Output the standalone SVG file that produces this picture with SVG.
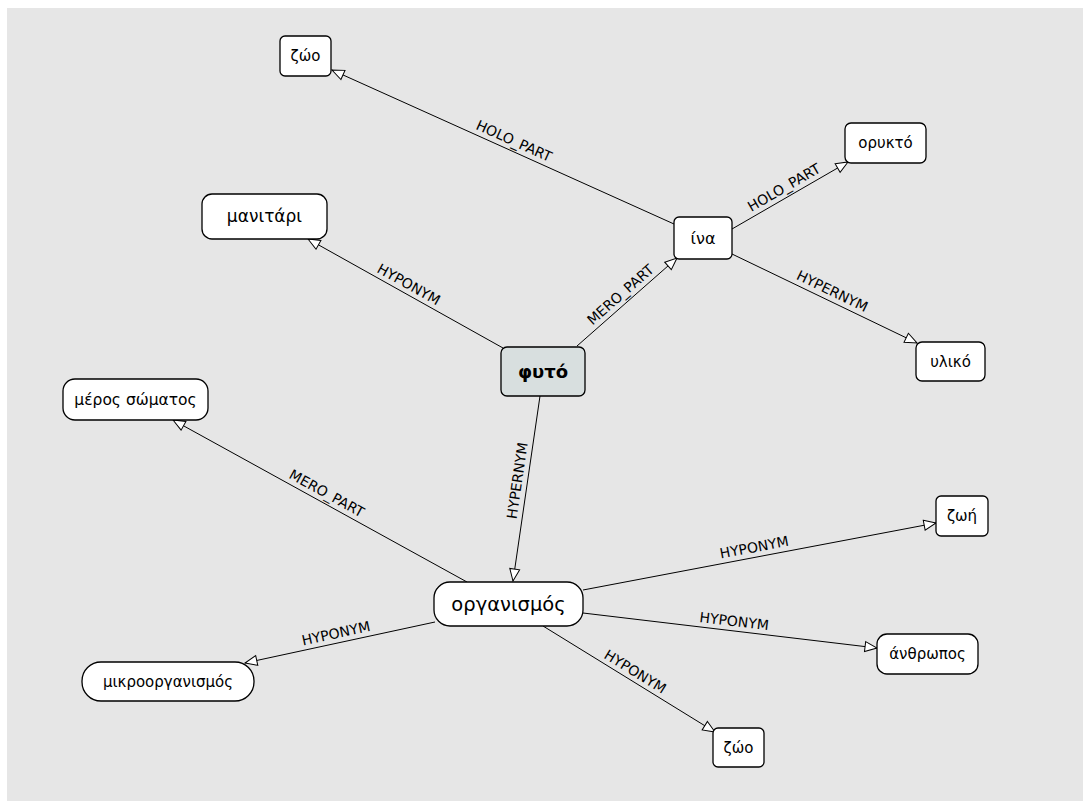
<svg xmlns="http://www.w3.org/2000/svg" width="1083" height="801" viewBox="0 0 1083 801">
<style>
.node rect{fill:#ffffff;stroke:#000000;stroke-width:1.3}
.node text{font-family:"DejaVu Sans","Liberation Sans",sans-serif;fill:#000;text-anchor:middle}
.edge{stroke:#000;stroke-width:1;fill:none;marker-end:url(#arr)}
.lbl{font-family:"DejaVu Sans","Liberation Sans",sans-serif;font-size:14px;fill:#000;text-anchor:middle}
</style>
<defs>
<marker id="arr" markerUnits="userSpaceOnUse" markerWidth="16" markerHeight="14" viewBox="-2 -2 16 14" refX="12" refY="5" orient="auto">
<path d="M0,0 L12,5 L0,10 Z" fill="#fff" stroke="#000" stroke-width="1"/>
</marker>
</defs>
<rect x="7" y="8" width="1076" height="793" fill="#e6e6e6"/>
<g id="connectors">
<path class="edge" d="M674,224 L332,70"/>
<path class="edge" d="M732,229 L848,162"/>
<path class="edge" d="M732,254 L917,343"/>
<path class="edge" d="M577,346 L677,258"/>
<path class="edge" d="M503,348 L308,239"/>
<path class="edge" d="M540,396 L513,581"/>
<path class="edge" d="M467,582 L173,420"/>
<path class="edge" d="M435,622 L245,663"/>
<path class="edge" d="M583,590 L936,523"/>
<path class="edge" d="M583,613 L877,648"/>
<path class="edge" d="M543,626 L715,732"/>
<text class="lbl" transform="translate(510,150) rotate(24.2)" y="-5">HOLO_PART</text>
<text class="lbl" transform="translate(789,196) rotate(-30)" y="-5">HOLO_PART</text>
<text class="lbl" transform="translate(828,300) rotate(25.7)" y="-5">HYPERNYM</text>
<text class="lbl" transform="translate(627,302) rotate(-41.3)" y="-5">MERO_PART</text>
<text class="lbl" transform="translate(404,293) rotate(29.2)" y="-5">HYPONYM</text>
<text class="lbl" transform="translate(527,482) rotate(-81.7)" y="-5">HYPERNYM</text>
<text class="lbl" transform="translate(322,502) rotate(28.9)" y="-5">MERO_PART</text>
<text class="lbl" transform="translate(338,643) rotate(-12.2)" y="-5">HYPONYM</text>
<text class="lbl" transform="translate(756,557) rotate(-10.7)" y="-5">HYPONYM</text>
<text class="lbl" transform="translate(733,631) rotate(6.8)" y="-5">HYPONYM</text>
<text class="lbl" transform="translate(630,680) rotate(31.6)" y="-5">HYPONYM</text>
</g>
<g id="n-zoo1" class="node"><rect x="280" y="36" width="51" height="40" rx="5"/><text x="305.5" y="61" font-size="15">ζώο</text></g>
<g id="n-orykto" class="node"><rect x="845" y="123" width="81" height="40" rx="6"/><text x="885.5" y="148" font-size="15">ορυκτό</text></g>
<g id="n-ina" class="node"><rect x="674" y="217" width="58" height="42" rx="5"/><text x="703" y="243.5" font-size="16">ίνα</text></g>
<g id="n-yliko" class="node"><rect x="916" y="342" width="69" height="39" rx="6"/><text x="950.5" y="366.5" font-size="15">υλικό</text></g>
<g id="n-manitari" class="node"><rect x="202" y="194" width="125" height="45" rx="10"/><text x="264.5" y="222" font-size="17">μανιτάρι</text></g>
<g id="n-fyto" class="node"><rect x="501" y="347" width="84" height="49" rx="6" style="fill:#d8dfdf"/><text x="543" y="377.5" font-size="18" font-weight="bold">φυτό</text></g>
<g id="n-meros" class="node"><rect x="63" y="379" width="145" height="41" rx="12"/><text x="135.5" y="405" font-size="15.5">μέρος σώματος</text></g>
<g id="n-organismos" class="node"><rect x="434" y="582" width="149" height="44" rx="16"/><text x="508.5" y="610.5" font-size="19.5">οργανισμός</text></g>
<g id="n-mikro" class="node"><rect x="82" y="662" width="172" height="39" rx="19"/><text x="168" y="686.5" font-size="15">μικροοργανισμός</text></g>
<g id="n-zoi" class="node"><rect x="936" y="496" width="52" height="40" rx="5"/><text x="962" y="521" font-size="15">ζωή</text></g>
<g id="n-anthropos" class="node"><rect x="877" y="634" width="101" height="40" rx="10"/><text x="927.5" y="659" font-size="15">άνθρωπος</text></g>
<g id="n-zoo2" class="node"><rect x="713" y="728" width="51" height="39" rx="5"/><text x="738.5" y="752.5" font-size="15">ζώο</text></g>
</svg>
